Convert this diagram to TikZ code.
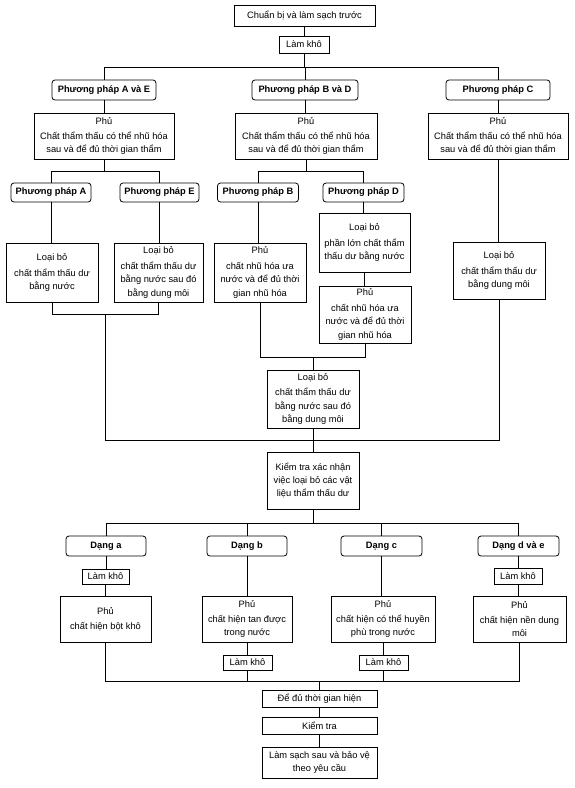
\documentclass[tikz,border=0pt]{standalone}
\usepackage{fontspec}
\setmainfont{Liberation Sans}
\begin{document}
\begin{tikzpicture}[x=1pt,y=-1pt,
  box/.style={draw, line width=0.8pt, inner sep=0pt, align=center, font=\fontsize{9.3}{13.4}\selectfont},
  rbox/.style={box, rounded corners=3pt, font=\bfseries\fontsize{9.3}{13.4}\selectfont},
  conn/.style={line width=0.8pt}]
\useasboundingbox (0,0) rectangle (575,788);
% top
\node[box, minimum width=141, minimum height=21] (prep) at (304.5,15.5) {Chuẩn bị và làm sạch trước};
\node[box, minimum width=50, minimum height=17] (dry0) at (304,44.5) {Làm khô};
\node[rbox, minimum width=104, minimum height=20] (ppAE) at (104,90) {Phương pháp A và E};
\node[rbox, minimum width=106, minimum height=20] (ppBD) at (305,90) {Phương pháp B và D};
\node[rbox, minimum width=104, minimum height=20] (ppC) at (498,90) {Phương pháp C};
\node[box, minimum width=140, minimum height=46] (phu1) at (104,136) {Phủ\\[2pt]Chất thẩm thấu có thể nhũ hóa\\sau và để đủ thời gian thẩm};
\node[box, minimum width=142, minimum height=46] (phu2) at (306,136) {Phủ\\[2pt]Chất thẩm thấu có thể nhũ hóa\\sau và để đủ thời gian thẩm};
\node[box, minimum width=140, minimum height=46] (phu3) at (498,136) {Phủ\\[2pt]Chất thẩm thấu có thể nhũ hóa\\sau và để đủ thời gian thẩm};
\node[rbox, minimum width=80, minimum height=19] (ppA) at (51,192.5) {Phương pháp A};
\node[rbox, minimum width=79, minimum height=19] (ppE) at (159.5,192.5) {Phương pháp E};
\node[rbox, minimum width=81, minimum height=19] (ppB) at (258,192.5) {Phương pháp B};
\node[rbox, minimum width=81, minimum height=19] (ppD) at (363.5,192.5) {Phương pháp D};
\node[box, minimum width=92, minimum height=59] (lbA) at (52,272.5) {Loại bỏ\\[2pt]chất thẩm thấu dư\\bằng nước};
\node[box, minimum width=89, minimum height=59] (lbE) at (158.5,272.5) {Loại bỏ\\[2pt]chất thẩm thấu dư\\bằng nước sau đó\\bằng dung môi};
\node[box, minimum width=92, minimum height=59] (phuB) at (260,272.5) {Phủ\\[2pt]chất nhũ hóa ưa\\nước và để đủ thời\\gian nhũ hóa};
\node[box, minimum width=91, minimum height=59] (lbD) at (364.5,242.5) {Loại bỏ\\[2pt]phần lớn chất thẩm\\thấu dư bằng nước};
\node[box, minimum width=92, minimum height=57] (phuD) at (365,314.5) {Phủ\\[2pt]chất nhũ hóa ưa\\nước và để đủ thời\\gian nhũ hóa};
\node[box, minimum width=92, minimum height=57] (lbC) at (499,270.5) {Loại bỏ\\[2pt]chất thẩm thấu dư\\bằng dung môi};
\node[box, minimum width=92, minimum height=58] (lbBD) at (313,399) {Loại bỏ\\[2pt]chất thẩm thấu dư\\bằng nước sau đó\\bằng dung môi};
\node[box, minimum width=92, minimum height=57] (check1) at (313,480.5) {Kiểm tra xác nhận\\việc loại bỏ các vật\\liệu thẩm thấu dư};
% bottom
\node[rbox, minimum width=80, minimum height=20] (dA) at (106,546) {Dạng a};
\node[rbox, minimum width=80, minimum height=20] (dB) at (247,546) {Dạng b};
\node[rbox, minimum width=81, minimum height=20] (dC) at (381.5,546) {Dạng c};
\node[rbox, minimum width=81, minimum height=20] (dDE) at (518.5,546) {Dạng d và e};
\node[box, minimum width=47, minimum height=15] (dryA) at (105.5,576.5) {Làm khô};
\node[box, minimum width=91, minimum height=46] (phuA) at (105.5,619) {Phủ\\[2pt]chất hiện bột khô};
\node[box, minimum width=90, minimum height=46] (phuBb) at (247,619) {Phủ\\[2pt]chất hiện tan được\\trong nước};
\node[box, minimum width=49, minimum height=15] (dryB) at (247.5,662.5) {Làm khô};
\node[box, minimum width=104, minimum height=46] (phuCc) at (383,619) {Phủ\\[2pt]chất hiện có thể huyền\\phù trong nước};
\node[box, minimum width=49, minimum height=15] (dryC) at (383.5,662.5) {Làm khô};
\node[box, minimum width=48, minimum height=16] (dryD) at (518,576) {Làm khô};
\node[box, minimum width=93, minimum height=46] (phuDd) at (519.5,619) {Phủ\\[2pt]chất hiện nền dung\\môi};
\node[box, minimum width=115, minimum height=17] (dev) at (319.5,698.5) {Để đủ thời gian hiện};
\node[box, minimum width=115, minimum height=17] (insp) at (319.5,725.5) {Kiểm tra};
\node[box, minimum width=115, minimum height=31] (clean) at (319.5,762.5) {Làm sạch sau và bảo vệ\\theo yêu cầu};
% bus coordinates
\coordinate (b1) at (0,67);
\coordinate (b2) at (0,171);
\coordinate (b3) at (0,314);
\coordinate (b4) at (0,357);
\coordinate (b5) at (0,440);
\coordinate (b6) at (0,523);
\coordinate (b7) at (0,681);
\coordinate (m1) at (105,314);
% connectors
\draw[conn] (prep.south) -- (prep.south |- dry0.north);
\draw[conn] (dry0.south) -- (dry0.south |- b1);
\draw[conn] (ppAE.north) |- (ppC.north |- b1) -- (ppC.north);
\draw[conn] (ppBD.north) -- (ppBD.north |- b1);
\draw[conn] (ppAE.south) -- (ppAE.south |- phu1.north);
\draw[conn] (ppBD.south) -- (ppBD.south |- phu2.north);
\draw[conn] (ppC.south) -- (ppC.south |- phu3.north);
\draw[conn] (phu1.south) -- (phu1.south |- b2);
\draw[conn] (ppA.north) |- (ppE.north |- b2) -- (ppE.north);
\draw[conn] (phu2.south) -- (phu2.south |- b2);
\draw[conn] (ppB.north) |- (ppD.north |- b2) -- (ppD.north);
\draw[conn] (phu3.south) -- (phu3.south |- lbC.north);
\draw[conn] (ppA.south) -- (ppA.south |- lbA.north);
\draw[conn] (ppE.south) -- (ppE.south |- lbE.north);
\draw[conn] (ppB.south) -- (ppB.south |- phuB.north);
\draw[conn] (ppD.south) -- (ppD.south |- lbD.north);
\draw[conn] (lbD.south) -- (lbD.south |- phuD.north);
\draw[conn] (lbA.south) |- (lbE.south |- b3) -- (lbE.south);
\draw[conn] (m1) |- (lbC.south |- b5) -- (lbC.south);
\draw[conn] (phuB.south) |- (phuD.south |- b4) -- (phuD.south);
\draw[conn] (lbBD.north) -- (lbBD.north |- b4);
\draw[conn] (lbBD.south) -- (check1.north);
\draw[conn] (check1.south) -- (check1.south |- b6);
\draw[conn] (dA.north) |- (dDE.north |- b6) -- (dDE.north);
\draw[conn] (dB.north) -- (dB.north |- b6);
\draw[conn] (dC.north) -- (dC.north |- b6);
\draw[conn] (dA.south) -- (dA.south |- dryA.north);
\draw[conn] (dryA.south) -- (dryA.south |- phuA.north);
\draw[conn] (dB.south) -- (dB.south |- phuBb.north);
\draw[conn] (phuBb.south) -- (phuBb.south |- dryB.north);
\draw[conn] (dC.south) -- (dC.south |- phuCc.north);
\draw[conn] (phuCc.south) -- (phuCc.south |- dryC.north);
\draw[conn] (dDE.south) -- (dDE.south |- dryD.north);
\draw[conn] (dryD.south) -- (dryD.south |- phuDd.north);
\draw[conn] (phuA.south) |- (phuDd.south |- b7) -- (phuDd.south);
\draw[conn] (dryB.south) -- (dryB.south |- b7);
\draw[conn] (dryC.south) -- (dryC.south |- b7);
\draw[conn] (dev.north) -- (dev.north |- b7);
\draw[conn] (dev.south) -- (dev.south |- insp.north);
\draw[conn] (insp.south) -- (insp.south |- clean.north);
\end{tikzpicture}
\end{document}
